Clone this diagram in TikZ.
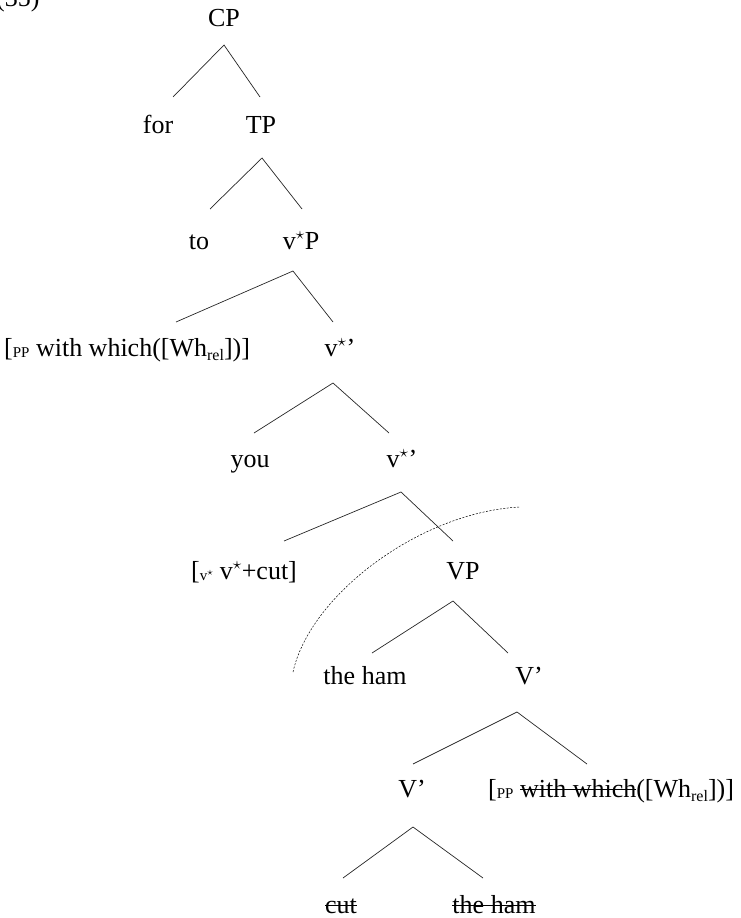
\documentclass[tikz,border=0pt]{standalone}
\usepackage{fontspec}
\setmainfont{Liberation Serif}
\newsavebox{\strkbox}
\newcommand{\strk}[1]{\sbox{\strkbox}{#1}\rlap{\usebox{\strkbox}}\rule[0.27em]{\wd\strkbox}{0.6pt}}
\newcommand{\vst}{v$^{\star}$}
\newcommand{\subsm}[1]{\raisebox{-1.5pt}{\fontsize{15}{15}\selectfont #1}}
\newcommand{\subrel}{\raisebox{-4pt}{\fontsize{16}{16}\selectfont rel}}
\begin{document}
\begin{tikzpicture}[x=1pt,y=-1pt,
  lbl/.style={anchor=base,inner sep=0pt,font=\fontsize{26}{30}\selectfont},
  lblw/.style={lbl,anchor=base west},
  branch/.style={line width=0.7pt,draw=black!85},
  arcline/.style={line width=0.5pt,dash pattern=on 2pt off 1.5pt}]
\useasboundingbox (0,0) rectangle (740,918);

\node[lblw] (num) at (-4,6) {(35)};

% labels
\node[lbl] (CP) at (224,26) {CP};
\node[lbl] (for) at (158,133) {for};
\node[lbl] (TP) at (261,133) {TP};
\node[lbl] (to) at (199,249) {to};
\node[lbl] (vP) at (301,249) {\vst P};
\node[lblw] (PPa) at (4,356) {[\subsm{PP} with which([Wh\subrel])]};
\node[lbl] (vbara) at (340,356) {\vst’};
\node[lbl] (you) at (250,467) {you};
\node[lbl] (vbarb) at (402,467) {\vst’};
\node[lblw] (vcut) at (191,579) {[\subsm{v$^{\star}$} \vst+cut]};
\node[lbl] (VP) at (463,579) {VP};
\node[lbl] (hama) at (365,684) {the ham};
\node[lbl] (Vbara) at (529,684) {V’};
\node[lbl] (Vbarb) at (412,797) {V’};
\node[lblw] (PPb) at (488,797) {[\subsm{PP} \strk{with which}([Wh\subrel])]};
\node[lbl] (cut) at (341,913) {\strk{cut}};
\node[lbl] (hamb) at (494,913) {\strk{the ham}};

% branch points
\coordinate (CPa) at (224,45);  \coordinate (CPl) at (173,97);  \coordinate (CPr) at (260,97);
\coordinate (TPa) at (262,158); \coordinate (TPl) at (210,209); \coordinate (TPr) at (302,209);
\coordinate (vPa) at (293,271); \coordinate (vPl) at (176,322); \coordinate (vPr) at (333,322);
\coordinate (vaa) at (333,383); \coordinate (val) at (254,433); \coordinate (var) at (389,433);
\coordinate (vba) at (401,492); \coordinate (vbl) at (284,541); \coordinate (vbr) at (453,541);
\coordinate (VPa) at (453,601); \coordinate (VPl) at (372,653); \coordinate (VPr) at (508,653);
\coordinate (Vaa) at (517,712); \coordinate (Val) at (413,764); \coordinate (Var) at (587,764);
\coordinate (Vba) at (413,827); \coordinate (Vbl) at (343,878); \coordinate (Vbr) at (483,878);

\draw[branch] (CPl) -- (CPa) -- (CPr);
\draw[branch] (TPl) -- (TPa) -- (TPr);
\draw[branch] (vPl) -- (vPa) -- (vPr);
\draw[branch] (val) -- (vaa) -- (var);
\draw[branch] (vbl) -- (vba) -- (vbr);
\draw[branch] (VPl) -- (VPa) -- (VPr);
\draw[branch] (Val) -- (Vaa) -- (Var);
\draw[branch] (Vbl) -- (Vba) -- (Vbr);

% dotted arc
\coordinate (arcS) at (293,672);
\coordinate (arcE) at (520,507);
\draw[arcline] (arcS) .. controls (310,595) and (420,512) .. (arcE);
\end{tikzpicture}
\end{document}
